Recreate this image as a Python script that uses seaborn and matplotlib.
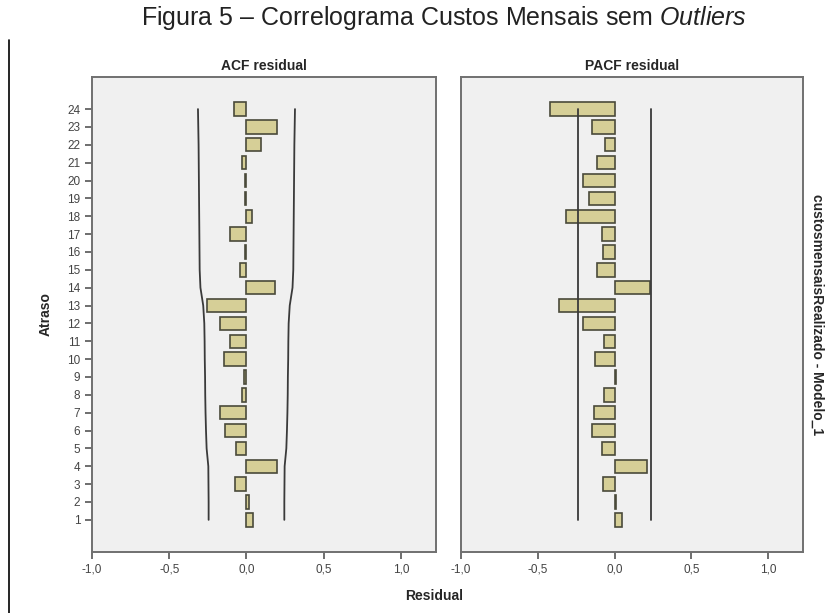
import matplotlib
matplotlib.use("Agg")
import matplotlib.pyplot as plt
import seaborn as sns
import numpy as np
import pandas as pd
from matplotlib.lines import Line2D
from matplotlib.ticker import FuncFormatter

lags = list(range(1, 25))
acf_vals = [0.043, 0.015, -0.074, 0.199, -0.065, -0.136, -0.171, -0.030, -0.015, -0.145,
            -0.106, -0.173, -0.255, 0.186, -0.041, -0.008, -0.108, 0.037, -0.008, -0.008,
            -0.028, 0.097, 0.195, -0.082]
acf_conf = [0.245, 0.245, 0.246, 0.247, 0.258, 0.262, 0.265, 0.267, 0.268, 0.270,
            0.271, 0.273, 0.280, 0.298, 0.303, 0.304, 0.305, 0.306, 0.307, 0.308,
            0.309, 0.310, 0.312, 0.314]
pacf_vals = [0.045, 0.010, -0.078, 0.210, -0.082, -0.145, -0.132, -0.067, 0.008, -0.128,
             -0.069, -0.208, -0.365, 0.231, -0.117, -0.076, -0.082, -0.314, -0.169, -0.208,
             -0.117, -0.065, -0.145, -0.418]
pacf_conf = [0.24] * 24
xticks = [-1.0, -0.5, 0.0, 0.5, 1.0]

sns.set_style("white")
plt.rcParams['font.family'] = ['Liberation Sans', 'DejaVu Sans']
plt.rcParams['mathtext.fontset'] = 'custom'
plt.rcParams['mathtext.rm'] = 'Liberation Sans'
plt.rcParams['mathtext.it'] = 'Liberation Sans:italic'

fig = plt.figure(figsize=(8.31, 6.13), dpi=100)
bg = '#F0F0F0'
barcol = '#D6CF97'
edge = '#4a4a3a'

ax1 = fig.add_axes([0.1107, 0.0995, 0.414, 0.775])
ax2 = fig.add_axes([0.5548, 0.0995, 0.4116, 0.775])

df_acf = pd.DataFrame({'lag': lags, 'val': acf_vals})
df_pacf = pd.DataFrame({'lag': lags, 'val': pacf_vals})

for ax, df, conf, title in [(ax1, df_acf, acf_conf, 'ACF residual'),
                            (ax2, df_pacf, pacf_conf, 'PACF residual')]:
    ax.set_facecolor(bg)
    sns.barplot(data=df, x='val', y='lag', orient='h', native_scale=True,
                width=0.75, color=barcol, edgecolor=edge, linewidth=1.2,
                saturation=1, ax=ax)
    ax.plot(conf, lags, color='#3a3a3a', lw=1.3)
    ax.plot([-c for c in conf], lags, color='#3a3a3a', lw=1.3)
    ax.set_xlim(-1.0, 1.227)
    ax.set_ylim(-0.8, 25.8)
    ax.set_xticks(xticks)
    ax.xaxis.set_major_formatter(FuncFormatter(lambda v, p: f"{v:.1f}".replace('.', ',')))
    ax.tick_params(axis='x', direction='out', length=5, width=1.2, colors='#555555',
                   labelsize=8.5, labelcolor='#444444', bottom=True)
    for s in ax.spines.values():
        s.set_color('#707070')
        s.set_linewidth(1.4)
    ax.set_xlabel('')
    ax.set_ylabel('')
    ax.set_title(title, fontsize=10, fontweight='bold', pad=5)

ax1.set_yticks(lags)
ax1.set_yticklabels([str(l) for l in lags])
ax1.tick_params(axis='y', direction='out', length=5, width=1.2, colors='#555555',
                labelsize=8.5, labelcolor='#444444', left=True)
ax2.set_yticks([])

fig.text(0.523, 0.027, 'Residual', ha='center', va='center', fontsize=10, fontweight='bold')
fig.text(0.055, 0.487, 'Atraso', ha='center', va='center', rotation=90, fontsize=10, fontweight='bold')
fig.text(0.983, 0.487, 'custosmensaisRealizado - Modelo_1', ha='center', va='center',
         rotation=-90, fontsize=10, fontweight='bold')
fig.text(0.534, 0.970, r'Figura 5 – Correlograma Custos Mensais sem $\mathit{Outliers}$',
         ha='center', va='center', fontsize=18, color='#222222')
fig.add_artist(Line2D([0.011, 0.011], [0.0, 0.935], color='black', lw=1.2,
                      transform=fig.transFigure))

fig.savefig('out.png', dpi=100, facecolor='white')
